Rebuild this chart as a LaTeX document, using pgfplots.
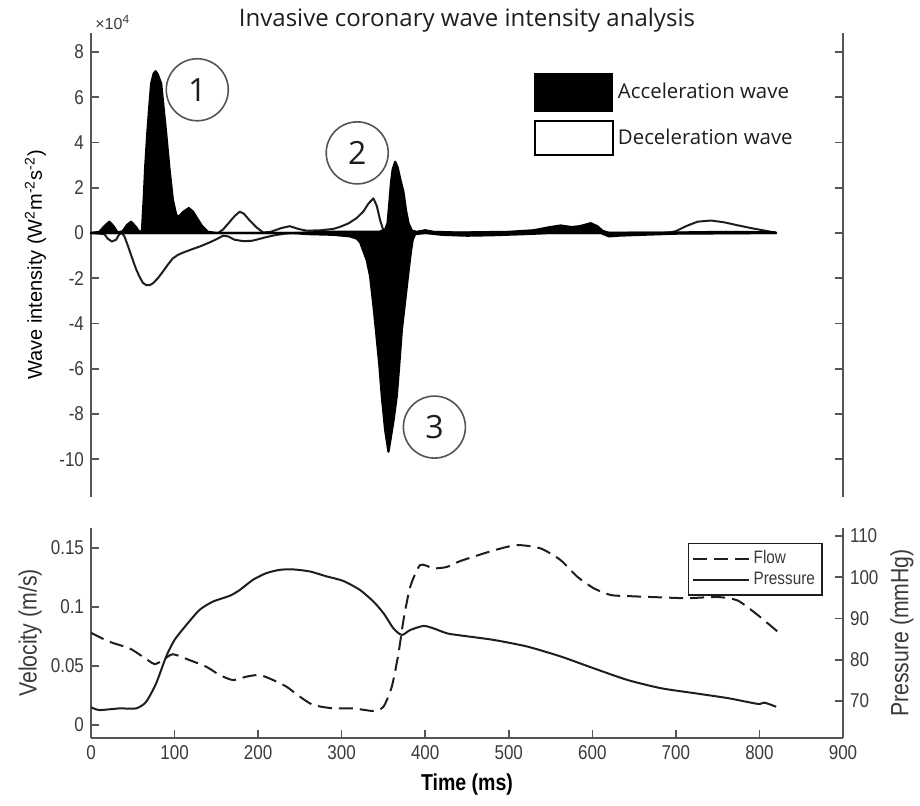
\documentclass[border=0pt]{standalone}
\usepackage{fontspec}
\setmainfont{Liberation Sans}
\newfontfamily\cond[FakeStretch=0.85]{Liberation Sans}
\newfontfamily\opensans{Open Sans}
\usepackage{pgfplots}
\usepackage{pgfplotstable}
\pgfplotsset{compat=1.18}
\definecolor{axgray}{HTML}{555555}
\definecolor{txtgray}{HTML}{3A3A3A}
\definecolor{ink}{HTML}{1E1E1E}

% wave intensity, units of 1e4 W m^-2 s^-2
\pgfplotstableread{
t y
0 0
10 0.05
16 0.3
22 0.5
27 0.3
32 0.02
38 0.08
43 0.35
48 0.5
53 0.3
58 0.05
61 0.1
63 1.46
65 3.0
67.4 4.42
70 5.7
72 6.6
75 7.05
77.4 7.15
80 7.0
84 6.6
87 5.5
90 4.4
94 2.8
98 1.46
102 0.8
105 0.72
110 0.92
117 1.1
122 0.95
127 0.65
133 0.3
140 0.05
150 0
250 0
280 0.05
345 0.05
352 0.15
355 0.45
357 1.3
359 2.2
361 2.8
364 3.15
367 2.9
370 2.4
374 1.8
377 1.0
380 0.43
384 0.1
390 0.05
400 0.12
410 0.05
440 0.02
500 0.05
530 0.12
548 0.25
562 0.33
575 0.26
585 0.3
598 0.43
606 0.3
612 0.1
620 0
700 0.02
760 0.05
818 0.03
820 0
}\accpos

\pgfplotstableread{
t y
0 0
240 0
260 -0.05
290 -0.08
310 -0.15
318 -0.25
322 -0.4
326 -0.8
330 -1.2
334 -1.9
338 -3.2
341 -4.3
345 -5.8
348 -7.2
352 -8.7
356 -9.67
359 -9.0
362 -8.3
366 -7.2
369 -5.8
372 -4.3
376 -3.0
380 -1.7
383 -0.8
385 -0.3
388 -0.05
400 0
420 -0.08
450 -0.12
480 -0.1
520 -0.05
550 0
610 0
620 -0.15
630 -0.12
660 -0.08
700 -0.03
820 0
}\accneg

\pgfplotstableread{
t y
0 0
152 0
158 0.15
165 0.45
172 0.75
178 0.94
183 0.85
190 0.55
198 0.25
206 0.02
215 0.05
228 0.22
238 0.3
248 0.18
258 0.1
275 0.12
290 0.18
298 0.27
308 0.42
318 0.66
326 0.95
332 1.3
338 1.53
342 1.2
346 0.57
350 0.1
354 0
690 0
700 0.08
712 0.3
726 0.5
742 0.55
758 0.47
775 0.33
795 0.18
810 0.08
820 0
}\decpos

\pgfplotstableread{
t y
0 0
16 -0.05
20 -0.25
25 -0.38
30 -0.3
34 -0.05
37 0
40 -0.15
44 -0.55
50 -1.19
54 -1.6
58 -1.93
62 -2.2
66 -2.3
70 -2.31
74 -2.23
80 -2.0
86 -1.71
92 -1.4
98 -1.12
104 -0.97
110 -0.87
120 -0.73
130 -0.6
140 -0.45
150 -0.28
158 -0.12
164 -0.15
172 -0.3
182 -0.36
192 -0.35
200 -0.28
210 -0.18
220 -0.1
232 -0.03
245 0
820 0
}\decneg

% velocity (m/s)
\pgfplotstableread{
t v
0 0.0782
22 0.0706
46 0.065
62 0.0579
76 0.0517
86 0.055
98 0.060
118 0.055
138 0.0494
154 0.0424
170 0.0381
186 0.041
202 0.0424
218 0.0381
234 0.0325
250 0.024
266 0.017
290 0.0141
314 0.0141
338 0.0119
350 0.0155
360 0.0325
368 0.0607
374 0.089
382 0.117
394 0.1356
410 0.1328
426 0.134
442 0.139
482 0.148
510 0.1525
538 0.1497
562 0.1398
582 0.1257
602 0.1158
622 0.1102
642 0.1093
682 0.1082
714 0.1075
750 0.1085
774 0.1055
798 0.0932
822 0.079
}\flow

% pressure (mmHg)
\pgfplotstableread{
t p
0 68.5
10 67.8
34 68.2
54 68.2
66 69.8
78 74.3
90 80.8
100 84.8
114 88.4
130 92.1
146 94.1
166 95.5
178 96.9
194 99.4
210 101.0
226 101.8
242 101.9
262 101.4
282 100.2
302 99.1
322 96.9
338 94.1
350 91.3
362 87.6
372 86.0
382 87.2
398 88.2
410 87.6
426 86.4
442 85.9
482 84.8
522 83.2
562 80.8
602 77.9
642 75.1
682 73.1
722 71.9
762 70.7
798 69.3
806 69.6
820 68.6
}\pressure

\pgfplotsset{
  common/.style={
    scale only axis, width=376pt, xmin=0, xmax=900,
    tick align=inside, major tick length=4pt,
    axis line style={axgray, line width=1pt},
    tick style={axgray, line width=0.8pt},
    tick label style={font=\cond\fontsize{10}{12}\selectfont, text=txtgray},
    label style={font=\cond\fontsize{12.5}{14}\selectfont, text=txtgray},
  },
}

\begin{document}
\begin{tikzpicture}
  \begin{axis}[common, at={(0,120.5pt)}, anchor=south west, height=232pt,
    ymin=-11.67, ymax=8.84,
    axis x line=none, axis y line=box, ytick pos=both, yticklabel pos=left,
    ytick={-10,-8,-6,-4,-2,0,2,4,6,8},
    yticklabels={-10,-8,-6,-4,-2,0,2,4,6,8},
    ylabel={Wave intensity (W\textsuperscript{2}m\textsuperscript{-2}s\textsuperscript{-2})},
    ylabel style={at={(axis description cs:-0.074,0.5)}, anchor=center},
    legend style={at={(axis description cs:0.588,0.914)}, anchor=north west,
      draw=none, fill=none, inner sep=0pt, row sep=4pt,
      font=\opensans\fontsize{10.2}{12}\selectfont, text=ink},
    legend cell align=left,
    clip=false,
  ]
    \addplot[axgray, line width=0.6pt, forget plot] coordinates {(0,0) (820,0)};
    \addplot[fill=white, draw=none, forget plot] table[x=t,y=y] {\decpos} \closedcycle;
    \addplot[fill=white, draw=none, forget plot] table[x=t,y=y] {\decneg} \closedcycle;
    \addplot[ink, line width=1pt, line join=round, forget plot] table[x=t,y=y] {\decpos};
    \addplot[ink, line width=1pt, line join=round, forget plot] table[x=t,y=y] {\decneg};
    \addplot[fill=black, draw=black, line width=1.1pt, line join=round, forget plot] table[x=t,y=y] {\accpos} \closedcycle;
    \addplot[fill=black, draw=black, line width=1.1pt, line join=round, forget plot] table[x=t,y=y] {\accneg} \closedcycle;

    \addlegendimage{legend image code/.code={\draw[fill=black,draw=black] (0pt,-9.5pt) rectangle (39pt,9.5pt);}}
    \addlegendentry{Acceleration wave}
    \addlegendimage{legend image code/.code={\draw[fill=white,draw=black,line width=1.2pt] (0pt,-8.5pt) rectangle (39pt,8.5pt);}}
    \addlegendentry{Deceleration wave}

    \node[font=\opensans\fontsize{12}{14}\selectfont, text=ink, anchor=center]
      at (axis description cs:0.5,1.028) {Invasive coronary wave intensity analysis};
    \node[font=\fontsize{8}{9}\selectfont, text=txtgray] at (axis description cs:0.029,1.023) {×10\textsuperscript{4}};
    \begin{scope}[every node/.style={circle, draw=axgray, line width=0.8pt, minimum size=31pt, inner sep=0pt,
        font=\opensans\fontsize{16}{18}\selectfont, text=ink}]
      \node at (axis cs:127.2,6.33) {1};
      \node at (axis cs:318.6,3.54) {2};
      \node at (axis cs:411,-8.58) {3};
    \end{scope}
  \end{axis}

  \begin{axis}[common, at={(0,0)}, anchor=south west, height=105pt,
    ymin=-0.011, ymax=0.167,
    axis x line*=bottom, axis y line*=left,
    xtick={0,100,200,300,400,500,600,700,800,900},
    xticklabels={0,100,200,300,400,500,600,700,800,900},
    ytick={0,0.05,0.1,0.15}, yticklabels={0,0.05,0.1,0.15},
    xlabel={Time (ms)},
    xlabel style={at={(axis description cs:0.5,-0.224)}, anchor=center,
      font=\cond\bfseries\fontsize{11.5}{13}\selectfont, text=black},
    ylabel={Velocity (m/s)},
    ylabel style={at={(axis description cs:-0.081,0.5)}, anchor=center},
  ]
    \addplot[ink, line width=1pt, dash pattern=on 7pt off 3.5pt, smooth, tension=0.4] table[x=t,y=v] {\flow};
  \end{axis}

  \begin{axis}[common, at={(0,0)}, anchor=south west, height=105pt,
    ymin=61.03, ymax=111.94,
    axis x line=none, axis y line*=right,
    ytick={70,80,90,100,110}, yticklabels={70,80,90,100,110},
    ylabel={Pressure (mmHg)},
    ylabel style={at={(axis description cs:1.0785,0.5)}, anchor=center},
    legend style={at={(axis description cs:0.794,0.929)}, anchor=north west,
      draw=ink, line width=0.6pt, fill=white, inner sep=1.5pt, row sep=-1pt,
      font=\cond\fontsize{9}{10}\selectfont, text=txtgray},
    legend cell align=left,
    legend image code/.code={\draw[#1] (0pt,0pt) -- (28pt,0pt);},
  ]
    \addlegendimage{ink, line width=1pt, dash pattern=on 7pt off 3.5pt}
    \addlegendentry{Flow}
    \addplot[ink, line width=1pt, smooth, tension=0.4] table[x=t,y=p] {\pressure};
    \addlegendentry{Pressure}
  \end{axis}

  \pgfresetboundingbox
  \path[use as bounding box] (-45.5pt,-34pt) rectangle (414.5pt,369pt);
\end{tikzpicture}
\end{document}
